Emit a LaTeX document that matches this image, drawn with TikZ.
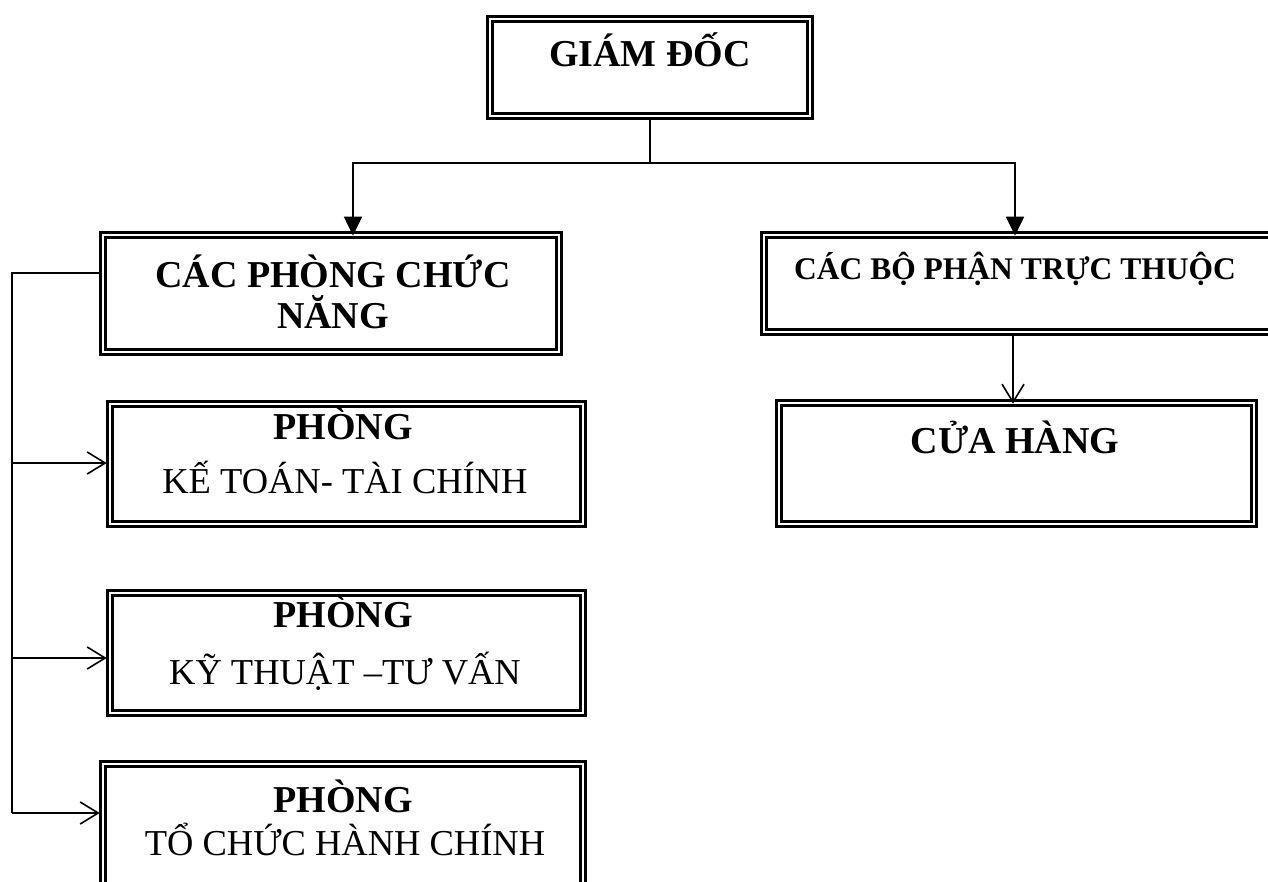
\documentclass[tikz,border=0pt]{standalone}
\usepackage{fontspec}
\setmainfont{Liberation Serif}
\usetikzlibrary{arrows.meta}
\tikzset{
  box/.style={draw=black, double=white, line width=2.6pt, double distance=2pt,
    rectangle, inner sep=0pt, fill=none},
  conn/.style={line width=1.6pt, black},
  tri/.style={conn, -{Triangle[length=19pt,width=18pt]}},
  barb/.style={conn, -{Straight Barb[length=18pt,width=22pt,line width=1.6pt]}},
  bigb/.style={font=\fontsize{38}{40}\selectfont\bfseries, anchor=base, inner sep=0pt},
  midb/.style={font=\fontsize{31.5}{34}\selectfont\bfseries, anchor=base, inner sep=0pt},
  reg/.style={font=\fontsize{36.5}{38}\selectfont, anchor=base, inner sep=0pt},
}
\begin{document}
\begin{tikzpicture}[x=1pt,y=-1pt]
\useasboundingbox (0,0) rectangle (1268,882);
% boxes
\node[box, minimum width=320pt, minimum height=97pt] (gd) at (650,67.5) {};
\node[box, minimum width=456pt, minimum height=117pt] (cpcn) at (331,293.5) {};
\node[box, minimum width=511pt, minimum height=97pt] (cbp) at (1019.5,283.5) {};
\node[box, minimum width=475pt, minimum height=121pt] (ch) at (1016.5,463.5) {};
\node[box, minimum width=473pt, minimum height=120pt] (kt) at (346.5,464) {};
\node[box, minimum width=473pt, minimum height=120pt] (kth) at (346.5,653) {};
\node[box, minimum width=480pt, minimum height=122pt] (tc) at (343,825) {};
% texts
\node[bigb] (tgd) at (650,67) {GIÁM ĐỐC};
\node[bigb] (tcp1) at (333,288) {CÁC PHÒNG CHỨC};
\node[bigb] (tcp2) at (333,328) {NĂNG};
\node[midb] (tcb) at (1015,280) {CÁC BỘ PHẬN TRỰC THUỘC};
\node[bigb] (tch) at (1015,453) {CỬA HÀNG};
\node[bigb] (tkt1) at (343,439) {PHÒNG};
\node[reg] (tkt2) at (345,493) {KẾ TOÁN- TÀI CHÍNH};
\node[bigb] (tkh1) at (343,627) {PHÒNG};
\node[reg] (tkh2) at (345,684) {KỸ THUẬT –TƯ VẤN};
\node[bigb] (ttc1) at (343,812) {PHÒNG};
\node[reg] (ttc2) at (345,855) {TỔ CHỨC HÀNH CHÍNH};
% connectors
\coordinate (j) at (650,163);
\coordinate (b0) at (12,273);
\coordinate (b1) at (12,463);
\coordinate (b2) at (12,658);
\coordinate (b3) at (12,813);
\draw[conn] (gd.south) -- (j);
\draw[tri] (j) -| ([xshift=22pt,yshift=-2pt]cpcn.north);
\draw[tri] (j) -| ([xshift=-4.5pt,yshift=-2pt]cbp.north);
\draw[barb] (cbp.south -| 1013,0) -- ([yshift=-2pt]ch.north -| 1013,0);
\draw[conn] (b0 -| cpcn.west) -- (b0) -- (b3);
\draw[barb] (b1) -- ([xshift=-2pt]b1 -| kt.west);
\draw[barb] (b2) -- ([xshift=-2pt]b2 -| kth.west);
\draw[barb] (b3) -- ([xshift=-2pt]b3 -| tc.west);
\end{tikzpicture}
\end{document}
